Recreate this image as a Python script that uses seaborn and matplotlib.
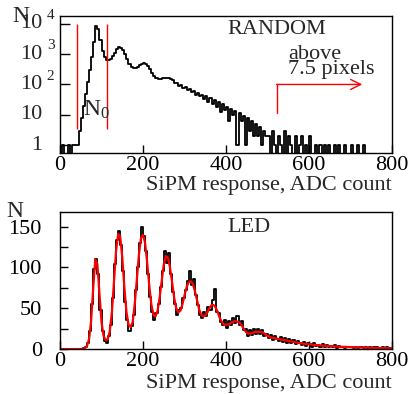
import numpy as np
import pandas as pd
import seaborn as sns
import matplotlib
matplotlib.use("Agg")
import matplotlib.pyplot as plt

# bin width of the histograms (ADC counts)
bin_w = 5

# RANDOM trigger spectrum, counts per 5-ADC bin (0..800)
random_counts = [
    0, 1, 0, 0, 1, 0, 1, 1, 1, 3,
    8, 20, 50, 120, 300, 800, 2500, 8500, 7000, 3000,
    1300, 800, 650, 620, 680, 850, 1100, 1450, 1700, 1650,
    1350, 1000, 700, 480, 370, 340, 350, 390, 440, 490,
    500, 470, 400, 320, 240, 190, 165, 155, 155, 160,
    165, 165, 160, 150, 140, 112, 110, 92, 96, 78,
    80, 66, 70, 55, 62, 46, 52, 40, 46, 33,
    40, 26, 36, 22, 30, 18, 26, 12, 22, 14,
    18, 6, 16, 10, 13, 1, 11, 6, 9, 1,
    8, 3, 6, 2, 5, 2, 4, 1, 3, 2,
    2, 0, 3, 1, 0, 2, 1, 0, 3, 0,
    2, 1, 0, 2, 0, 1, 2, 0, 1, 0,
    2, 0, 0, 1, 0, 1, 0, 1, 0, 1,
    0, 0, 1, 0, 1, 0, 0, 1, 0, 0,
    1, 0, 0, 1, 0, 0, 1, 0, 0, 0,
    0, 0, 0, 0, 0, 0, 0, 0, 0, 0,
]

# LED spectrum, counts per 5-ADC bin (0..800)
led_counts = [
    0, 0, 0, 0, 0, 0, 0, 0, 0, 0,
    0, 1, 2, 8, 22, 55, 98, 110, 92, 48,
    22, 10, 7, 16, 30, 62, 104, 134, 145, 128,
    96, 58, 36, 22, 28, 42, 72, 100, 130, 150,
    138, 120, 92, 64, 46, 36, 44, 55, 76, 96,
    120, 106, 118, 92, 70, 55, 42, 48, 50, 62,
    72, 84, 96, 78, 86, 66, 54, 42, 38, 45,
    40, 52, 48, 60, 74, 46, 44, 33, 30, 36,
    26, 34, 29, 38, 32, 40, 29, 35, 23, 24,
    16, 23, 17, 24, 18, 25, 19, 23, 16, 19,
    13, 17, 11, 16, 12, 10, 15, 9, 13, 8,
    12, 7, 11, 6, 10, 8, 5, 9, 4, 8,
    6, 3, 7, 4, 5, 3, 6, 3, 5, 2,
    4, 3, 5, 1, 4, 2, 3, 1, 3, 2,
    3, 1, 3, 1, 2, 2, 1, 3, 1, 2,
    1, 2, 2, 1, 1, 2, 1, 2, 1, 1,
]

# multi-peak fit of the LED spectrum, sampled every 5 ADC counts (0..800)
led_fit = [
    0, 0, 0, 0, 0, 0, 0, 0, 0, 0,
    0, 0.3, 1, 4, 12, 35, 75, 110, 104, 68,
    33, 16, 11, 12, 22, 45, 82, 120, 141, 138,
    112, 76, 46, 30, 27, 33, 55, 85, 115, 136,
    140, 130, 106, 78, 55, 42, 40, 47, 63, 84,
    104, 114, 112, 100, 82, 63, 50, 45, 47, 55,
    66, 76, 82, 83, 80, 71, 60, 49, 42, 40,
    41, 45, 50, 54, 54, 51, 45, 38, 33, 30,
    30, 30, 31, 33, 34, 34, 33, 31, 27, 23,
    20, 19, 19, 20, 21, 21, 21, 21, 20, 18,
    16, 15, 14, 13.5, 13, 12.5, 12, 11.5, 11, 10.5,
    10, 9.5, 9, 8.5, 8, 7.5, 7, 6.7, 6.4, 6.1,
    5.8, 5.5, 5.2, 5, 4.8, 4.6, 4.4, 4.2, 4, 3.8,
    3.6, 3.4, 3.2, 3.1, 3, 2.9, 2.8, 2.7, 2.6, 2.5,
    2.4, 2.3, 2.2, 2.1, 2, 1.9, 1.8, 1.7, 1.6, 1.55,
    1.5, 1.45, 1.4, 1.35, 1.3, 1.25, 1.2, 1.15, 1.1, 1.05,
    1.0,
]

# N0 window and "above 7.5 pixels" threshold (ADC)
n0_cuts = [40, 114]
threshold = 522

# log axis decades and their labels
decades = [0, 1, 2, 3, 4]

centers = bin_w / 2 + bin_w * np.arange(len(random_counts))
random_df = pd.DataFrame({"adc": centers, "n": random_counts})
led_df = pd.DataFrame({"adc": centers, "n": led_counts})
fit_df = pd.DataFrame({"adc": bin_w * np.arange(len(led_fit)), "n": led_fit})

sns.set_style("ticks")
plt.rcParams["font.family"] = ["Liberation Serif", "DejaVu Serif"]
plt.rcParams["mathtext.fontset"] = "custom"
plt.rcParams["mathtext.rm"] = "Liberation Serif"
plt.rcParams["mathtext.it"] = "Liberation Serif"
plt.rcParams["font.size"] = 16
plt.rcParams["axes.linewidth"] = 1.0
plt.rcParams["xtick.direction"] = "in"
plt.rcParams["ytick.direction"] = "in"
plt.rcParams["xtick.color"] = "black"
plt.rcParams["ytick.color"] = "black"
plt.rcParams["axes.edgecolor"] = "black"

fig = plt.figure(figsize=(4.11, 3.94), dpi=100)
ax1 = fig.add_axes([0.146, 0.612, 0.808, 0.347])
ax2 = fig.add_axes([0.146, 0.114, 0.808, 0.348])

# top panel: random trigger, log scale
sns.lineplot(data=random_df, x="adc", y="n", ax=ax1, color="black",
             drawstyle="steps-mid", linewidth=1.3, estimator=None, sort=False)
ax1.set_yscale("log")
ax1.set_xlim(0, 800)
ax1.set_ylim(0.55, 1.8e4)
ax1.set_yticks([10.0 ** k for k in decades])
ax1.set_yticklabels([])
ytr = ax1.get_yaxis_transform()
for k in decades:
    base = "1" if k == 0 else "10"
    ax1.text(-0.054, 10.0 ** k, base, transform=ytr, ha="right", va="center", fontsize=16)
    if k >= 2:
        ax1.text(-0.04, 10.0 ** (k + 0.27), str(k), transform=ytr, ha="left", va="center",
                 fontsize=11)
ax1.set_xticks([0, 200, 400, 600, 800])
ax1.tick_params(axis="y", which="major", length=7, width=1.0)
ax1.tick_params(axis="y", which="minor", length=4, width=0.8)
ax1.tick_params(axis="x", length=6, width=1.0, pad=2)
ax1.set_xlabel("SiPM response, ADC count", loc="right", labelpad=1)
ax1.set_ylabel("")

ax1.vlines(n0_cuts, 3.5, 1e4, color="red", linewidth=1.0)
ax1.text(55, 14, r"N$_{0}$", fontsize=17, ha="left", va="center")
ax1.text(0.653, 0.905, "RANDOM", transform=ax1.transAxes, ha="center", va="center", fontsize=16)
ax1.text(0.687, 0.79, "above\n7.5 pixels", transform=ax1.transAxes, ha="left", va="top",
         fontsize=16, linespacing=0.75)
ax1.plot([threshold, threshold], [11, 100], color="red", linewidth=1.0)
ax1.annotate("", xy=(728, 100), xytext=(threshold - 0.5, 100),
             arrowprops=dict(arrowstyle="->", color="red", lw=1.0, mutation_scale=18,
                             shrinkA=0, shrinkB=0))
fig.text(0.030, 0.985, "N", fontsize=17, ha="left", va="top")

# bottom panel: LED spectrum with fit
sns.lineplot(data=led_df, x="adc", y="n", ax=ax2, color="black",
             drawstyle="steps-mid", linewidth=1.3, estimator=None, sort=False)
sns.lineplot(data=fit_df, x="adc", y="n", ax=ax2, color="red",
             linewidth=1.6, estimator=None, sort=False)
ax2.set_xlim(0, 800)
ax2.set_ylim(0, 168)
ax2.set_yticks([0, 50, 100, 150])
ax2.set_yticks([25, 75, 125], minor=True)
ax2.set_xticks([0, 200, 400, 600, 800])
ax2.tick_params(axis="y", which="both", length=6, width=1.0, pad=13)
ax2.tick_params(axis="x", length=6, width=1.0, pad=2)
ax2.set_xlabel("SiPM response, ADC count", loc="right", labelpad=2)
ax2.set_ylabel("")
ax2.text(0.568, 0.887, "LED", transform=ax2.transAxes, ha="center", va="center", fontsize=16)
fig.text(0.015, 0.49, "N", fontsize=17, ha="left", va="top")

for ax in (ax1, ax2):
    for s in ax.spines.values():
        s.set_visible(True)
        s.set_linewidth(1.0)

fig.savefig("out.png", dpi=100)
